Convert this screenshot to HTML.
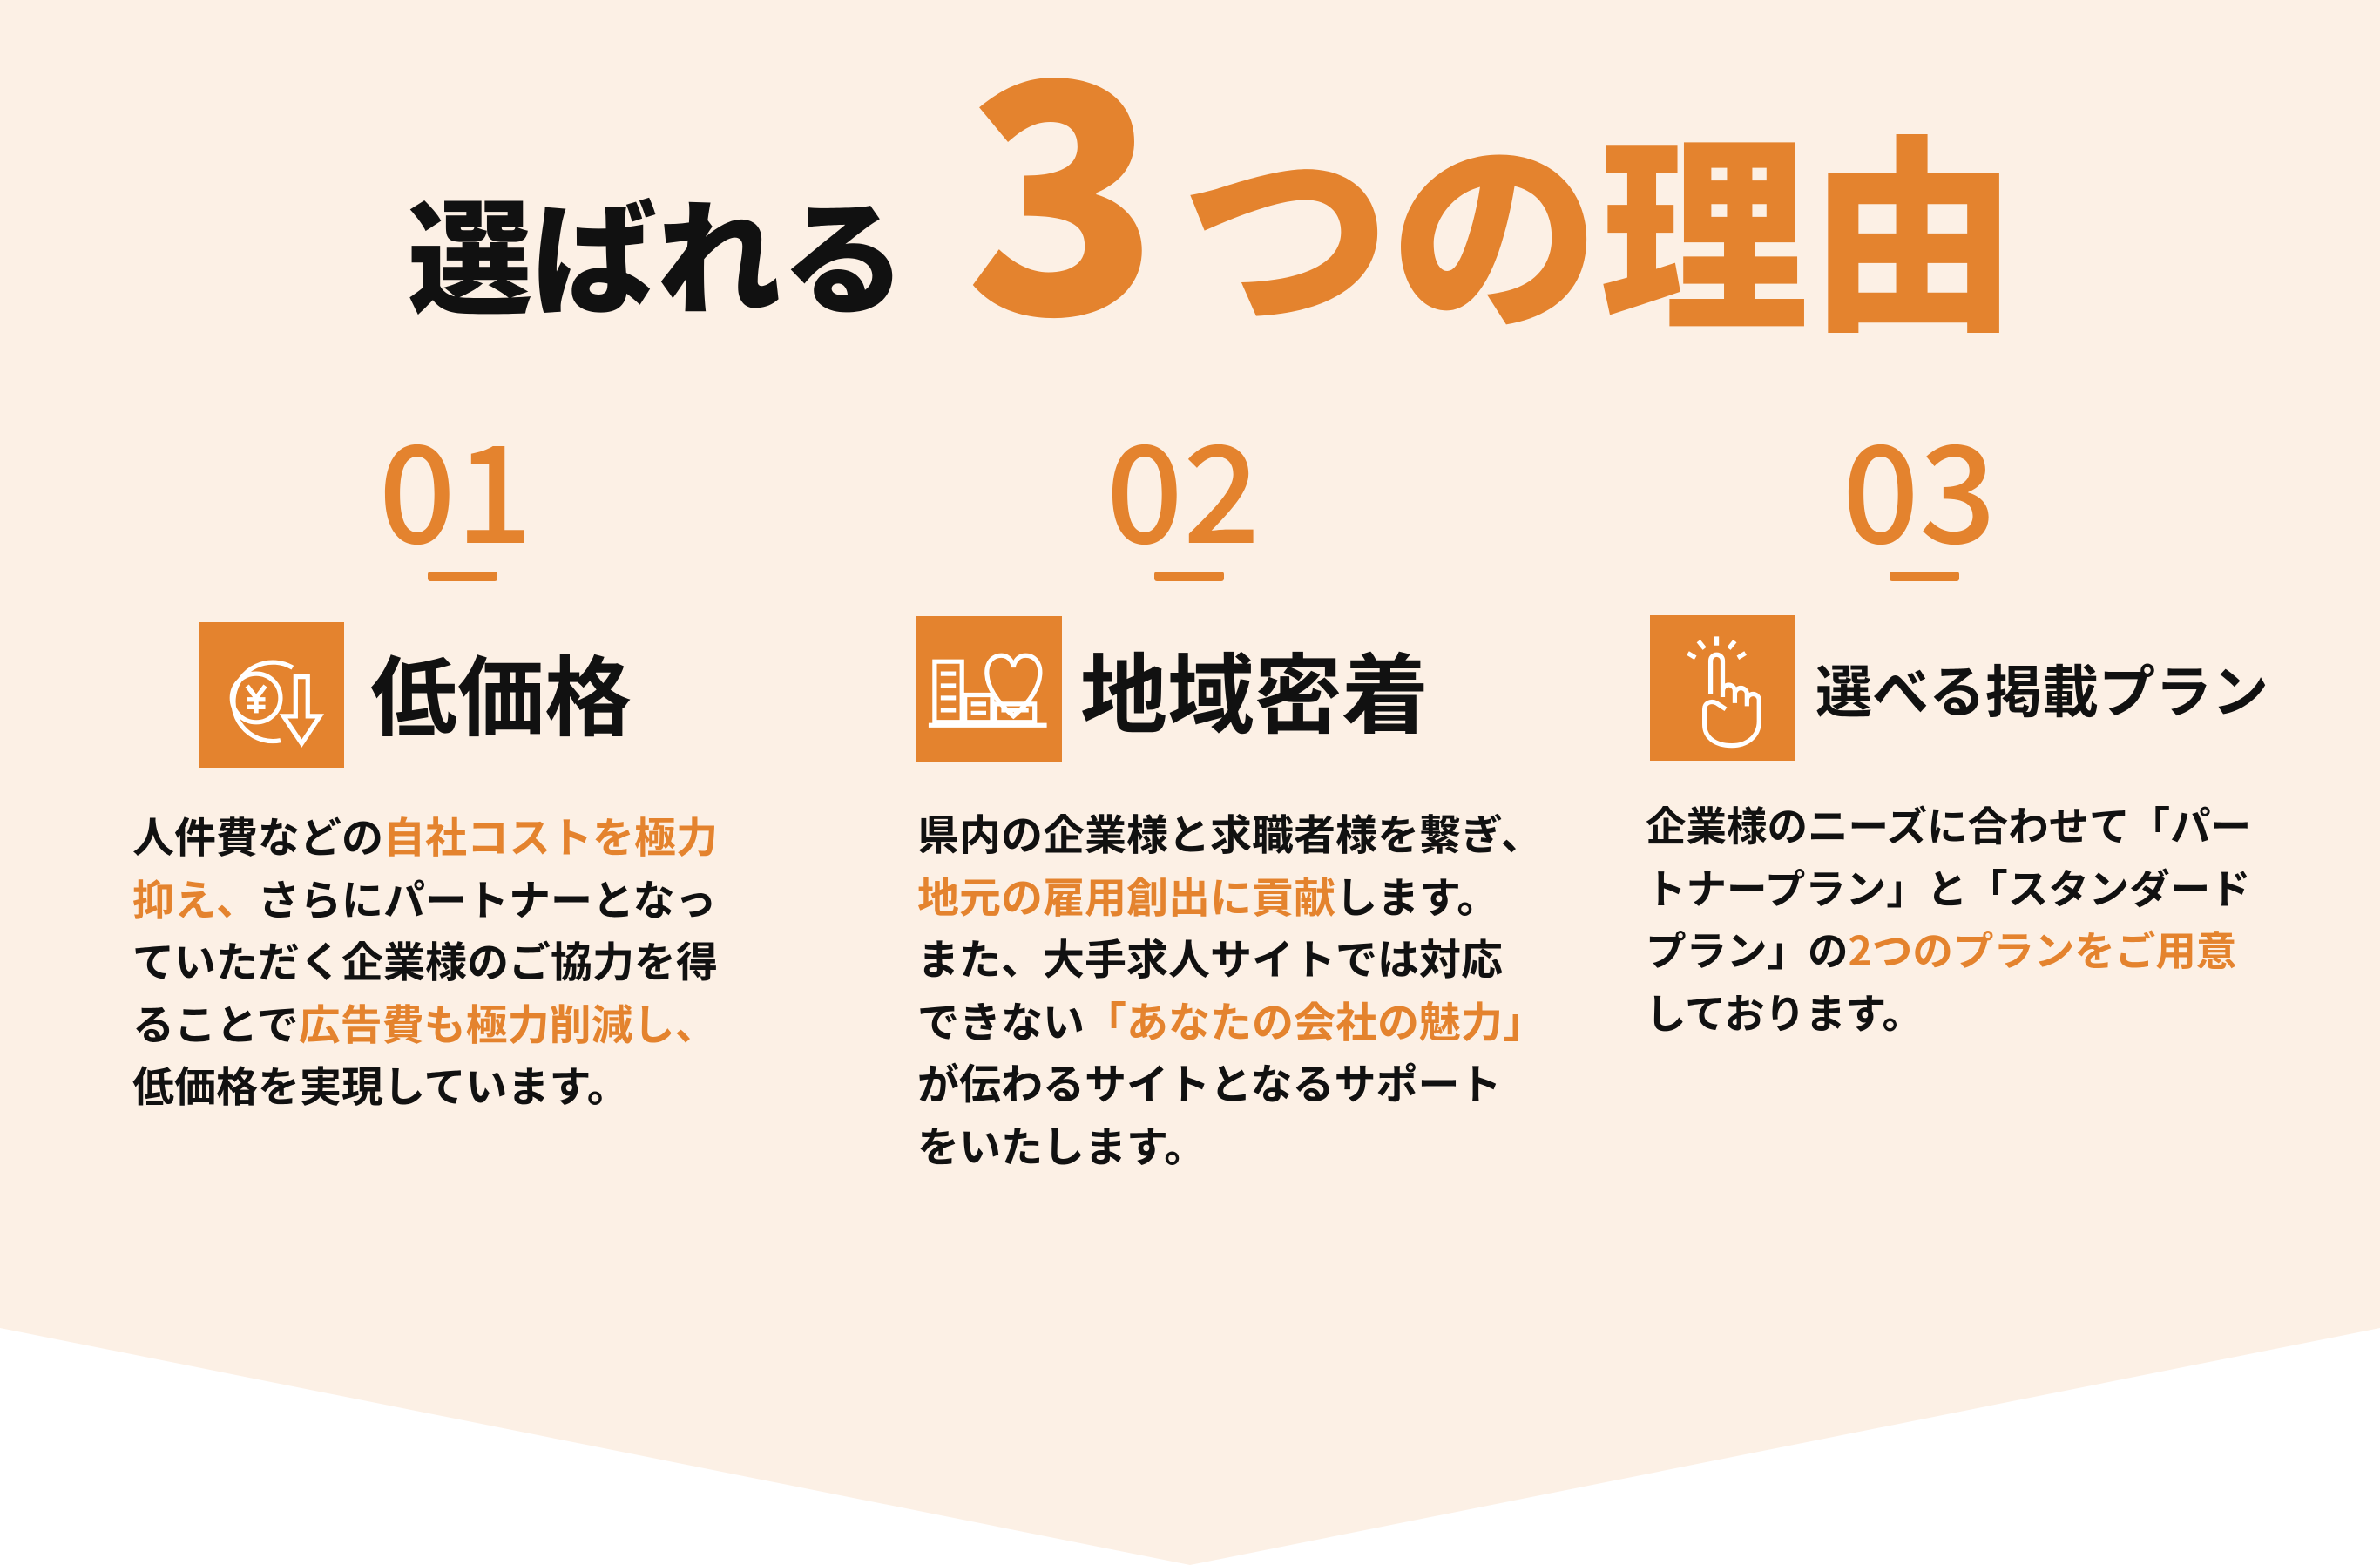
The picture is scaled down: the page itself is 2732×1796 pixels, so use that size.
<!DOCTYPE html>
<html><head><meta charset="utf-8"><style>
html,body{margin:0;padding:0}
body{width:2732px;height:1796px;position:relative;overflow:hidden;background:#fff;font-family:"Liberation Sans","Noto Sans CJK JP",sans-serif;}
.a{position:absolute;line-height:1;white-space:nowrap}
.o{color:#e4832e}
.k{color:#111}
.num{font-family:"Noto Sans CJK JP",sans-serif;font-weight:500;font-size:155px;color:#e4832e;width:300px;text-align:center}
.bar{position:absolute;height:11px;width:80px;background:#e4832e;border-radius:3px}
.box{position:absolute;width:167px;height:167px;background:#e4832e}
.h{font-family:"Noto Sans CJK JP",sans-serif;font-weight:700;color:#111}
.body{position:absolute;font-family:"Noto Sans CJK JP",sans-serif;font-weight:700;font-size:48px;line-height:71.5px;color:#111;white-space:nowrap}
</style></head><body>
<svg class="a" style="left:0;top:0" width="2732" height="1796"><polygon points="0,0 2732,0 2732,1524 1366,1796 0,1524" fill="#fcf0e5"/></svg>

<div class="a k h" style="left:468px;top:216px;font-size:143px;font-weight:900">選ばれる</div>
<div class="a o" style="left:1108px;top:18px;font-size:366px;font-family:'Noto Sans CJK JP',sans-serif;font-weight:900">3</div>
<div class="a o" style="left:1356px;top:136px;font-size:240px;font-family:'Noto Sans CJK JP',sans-serif;font-weight:900">つの理由</div>

<div class="a num" style="left:373px;top:478px">01</div>
<div class="a num" style="left:1208px;top:478px">02</div>
<div class="a num" style="left:2053px;top:478px">03</div>
<div class="bar" style="left:491px;top:656px"></div>
<div class="bar" style="left:1325px;top:656px"></div>
<div class="bar" style="left:2169px;top:656px"></div>

<div class="box" style="left:228px;top:714px">
<svg width="167" height="167" viewBox="0 0 96 96" fill="none" stroke="#fff" stroke-width="3">
<path d="M62 30 A26 26 0 1 0 54 78"/><circle cx="38" cy="50" r="16"/>
<path d="M32 42 L38 50 L44 42 M38 50 V60 M32 51 H44 M32 56 H44"/>
<path d="M64 36 V62 H56 L68 80 L80 62 H72 V36 Z"/></svg></div>
<div class="a h" style="left:425px;top:743px;font-size:100px">低価格</div>

<div class="box" style="left:1052px;top:707px">
<svg width="167" height="167" viewBox="0 0 96 96" fill="none" stroke="#fff" stroke-width="3">
<path d="M12 30 H30 V70 H12 Z M16 38 H26 M16 46 H26 M16 54 H26 M16 62 H26"/>
<path d="M64 66 C40 46 44 26 56 26 C62 26 64 32 64 34 C64 32 66 26 72 26 C84 26 88 46 64 66 Z"/>
<path d="M32 52 H50 V70 H32 Z M52 58 H78 V70 H52 Z M36 58 H46 M36 64 H46 M56 62 H74"/>
<path d="M8 72 H86"/></svg></div>
<div class="a h" style="left:1240px;top:740px;font-size:100px">地域密着</div>

<div class="box" style="left:1894px;top:706px">
<svg width="167" height="167" viewBox="0 0 96 96" fill="none" stroke="#fff" stroke-width="3">
<path d="M44 20 V14 M36 22 L32 17 M52 22 L56 17 M30 28 L25 25 M58 28 L63 25"/>
<path d="M40 52 V30 A4 4 0 0 1 48 30 V54 M48 50 A4 4 0 0 1 56 50 V58 M56 52 A4 4 0 0 1 64 52 V60 M64 56 A4 4 0 0 1 72 56 V70 C72 80 64 86 54 86 C42 86 36 80 36 72 V62 C36 58 40 56 44 58 L50 62"/></svg></div>
<div class="a h" style="left:2084px;top:757px;font-size:65px">選べる掲載プラン</div>

<div class="body" style="left:152px;top:922px">人件費などの<span class="o">自社コストを極力</span><br><span class="o">抑え、</span>さらにパートナーとなっ<br>ていただく企業様のご協力を得<br>ることで<span class="o">広告費も極力削減し、</span><br>低価格を実現しています。</div>

<div class="body" style="left:1053px;top:919px">県内の企業様と求職者様を繋ぎ、<br><span class="o">地元の雇用創出に貢献</span>します。<br>また、大手求人サイトでは対応<br>できない<span class="o">「あなたの会社の魅力」</span><br>が伝わるサイトとなるサポート<br>をいたします。</div>

<div class="body" style="left:1889px;top:910px;font-size:46.5px">企業様のニーズに合わせて「パー<br>トナープラン」と「スタンダード<br>プラン」の<span class="o">2つのプランをご用意</span><br>しております。</div>
</body></html>
